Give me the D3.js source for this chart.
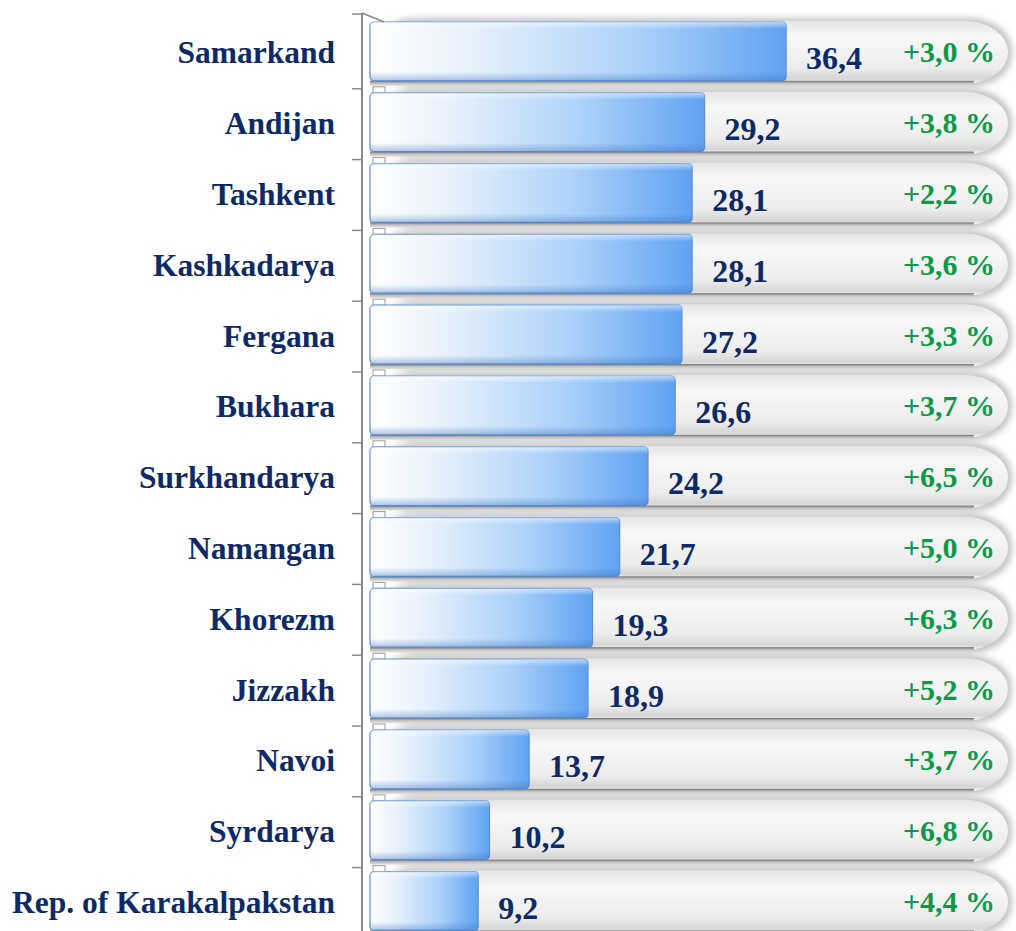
<!DOCTYPE html>
<html>
<head>
<meta charset="utf-8">
<script src="https://cdn.jsdelivr.net/npm/d3@7"></script>
<style>
  body { margin: 0; background: #fff; }
  text { font-family: "Liberation Serif", "Times New Roman", serif; font-weight: bold; }
</style>
</head>
<body>
<svg width="1016" height="931"></svg>
<script>
// data
var regions = ["Samarkand", "Andijan", "Tashkent", "Kashkadarya", "Fergana", "Bukhara",
  "Surkhandarya", "Namangan", "Khorezm", "Jizzakh", "Navoi", "Syrdarya", "Rep. of Karakalpakstan"];
var values = [36.4, 29.2, 28.1, 28.1, 27.2, 26.6, 24.2, 21.7, 19.3, 18.9, 13.7, 10.2, 9.2];
var growth = ["+3,0 %", "+3,8 %", "+2,2 %", "+3,6 %", "+3,3 %", "+3,7 %", "+6,5 %",
  "+5,0 %", "+6,3 %", "+5,2 %", "+3,7 %", "+6,8 %", "+4,4 %"];

var svg = d3.select("svg");
var fmt = function(d) { return d.toFixed(1).replace(".", ","); };

var x = d3.scaleLinear().domain([0, 56]).range([374, 1008]);
var y = d3.scaleBand().domain(regions).range([18, 18 + 13 * 70.8]).padding(0);
var bh = y.bandwidth();

// gradients
var defs = svg.append("defs");
var gb = defs.append("linearGradient").attr("id", "barH");
gb.append("stop").attr("offset", "0%").attr("stop-color", "#ffffff");
gb.append("stop").attr("offset", "25%").attr("stop-color", "#e6f0fb");
gb.append("stop").attr("offset", "65%").attr("stop-color", "#aad0f9");
gb.append("stop").attr("offset", "100%").attr("stop-color", "#60a2f1");

var gv = defs.append("linearGradient").attr("id", "barV").attr("x2", 0).attr("y2", 1);
gv.append("stop").attr("offset", "0%").attr("stop-color", "#ffffff").attr("stop-opacity", 0.55);
gv.append("stop").attr("offset", "12%").attr("stop-color", "#ffffff").attr("stop-opacity", 0.0);
gv.append("stop").attr("offset", "85%").attr("stop-color", "#3a6fb8").attr("stop-opacity", 0.0);
gv.append("stop").attr("offset", "100%").attr("stop-color", "#3a6fb8").attr("stop-opacity", 0.4);

var gp = defs.append("linearGradient").attr("id", "pill").attr("x2", 0).attr("y2", 1);
gp.append("stop").attr("offset", "0%").attr("stop-color", "#e4e4e4");
gp.append("stop").attr("offset", "25%").attr("stop-color", "#f8f8f8");
gp.append("stop").attr("offset", "75%").attr("stop-color", "#ececec");
gp.append("stop").attr("offset", "92%").attr("stop-color", "#d6d6d6");
gp.append("stop").attr("offset", "100%").attr("stop-color", "#ffffff");

var gs = defs.append("linearGradient").attr("id", "strip").attr("x2", 0).attr("y2", 1);
gs.append("stop").attr("offset", "0%").attr("stop-color", "#6e6e6e");
gs.append("stop").attr("offset", "45%").attr("stop-color", "#bdbdbd");
gs.append("stop").attr("offset", "100%").attr("stop-color", "#e2e2e2");

var blur = defs.append("filter").attr("id", "soft").attr("x", "-5%").attr("y", "-20%")
  .attr("width", "110%").attr("height", "140%");
blur.append("feGaussianBlur").attr("stdDeviation", 3);

var rows = svg.append("g").selectAll("g").data(regions).join("g")
  .attr("transform", function(d) { return "translate(0," + y(d) + ")"; });

// soft shadow behind the gray capsules
rows.append("rect")
  .attr("x", x(0)).attr("y", 0).attr("width", x(56) - x(0) + 4).attr("height", bh - 2)
  .attr("rx", 42).attr("ry", 32)
  .attr("fill", "#c4c4c4").attr("filter", "url(#soft)");

// capsule
rows.append("rect")
  .attr("x", x(0) - 4).attr("y", 3).attr("width", x(56) - x(0) + 4).attr("height", bh - 8)
  .attr("rx", 44).attr("ry", 31)
  .attr("fill", "url(#pill)");

// floor strip under each bar
rows.append("rect")
  .attr("x", x(0) - 4).attr("y", bh - 8).attr("width", x(56) - x(0) - 30).attr("height", 5)
  .attr("fill", "url(#strip)");
rows.append("rect")
  .attr("x", 373).attr("y", bh - 2).attr("width", 12).attr("height", 6)
  .attr("fill", "#ffffff").attr("stroke", "#9a9a9a").attr("stroke-width", 1);

// bars
rows.append("rect")
  .attr("x", x(0) - 4).attr("y", 4)
  .attr("width", function(d, i) { return x(values[i]) - x(0) + 4; })
  .attr("height", bh - 12)
  .attr("rx", 4)
  .attr("fill", "url(#barH)")
  .attr("stroke", "#5b8fd6").attr("stroke-width", 1.2);
rows.append("rect")
  .attr("x", x(0) - 4).attr("y", 4)
  .attr("width", function(d, i) { return x(values[i]) - x(0) + 4; })
  .attr("height", bh - 12)
  .attr("rx", 4)
  .attr("fill", "url(#barV)");

// category labels
rows.append("text")
  .attr("x", 335).attr("y", bh / 2 + 10)
  .attr("text-anchor", "end")
  .attr("font-size", 31.5)
  .attr("fill", "#0e2a66")
  .text(function(d) { return d; });

// value labels
rows.append("text")
  .attr("x", function(d, i) { return x(values[i]) + 20; })
  .attr("y", bh / 2 + 16)
  .attr("font-size", 32)
  .attr("fill", "#0e2a66")
  .text(function(d, i) { return fmt(values[i]); });

// growth labels
rows.append("text")
  .attr("x", 995).attr("y", bh / 2 + 9)
  .attr("text-anchor", "end")
  .attr("font-size", 30)
  .attr("fill", "#10984a")
  .text(function(d, i) { return growth[i]; });

// axis
var axis = svg.append("g").attr("stroke", "#8a8a8a").attr("fill", "none");
axis.append("line").attr("x1", 362).attr("x2", 362).attr("y1", 13).attr("y2", 931).attr("stroke-width", 2);
axis.append("line").attr("x1", 362).attr("x2", 384).attr("y1", 13).attr("y2", 22).attr("stroke-width", 1.5);
axis.selectAll("line.tick").data(regions.slice(1)).join("line")
  .attr("class", "tick")
  .attr("x1", 352).attr("x2", 362)
  .attr("y1", function(d) { return y(d); }).attr("y2", function(d) { return y(d); })
  .attr("stroke-width", 1.5);
axis.append("line").attr("x1", 352).attr("x2", 362).attr("y1", 14).attr("y2", 14).attr("stroke-width", 1.5);
</script>
</body>
</html>
